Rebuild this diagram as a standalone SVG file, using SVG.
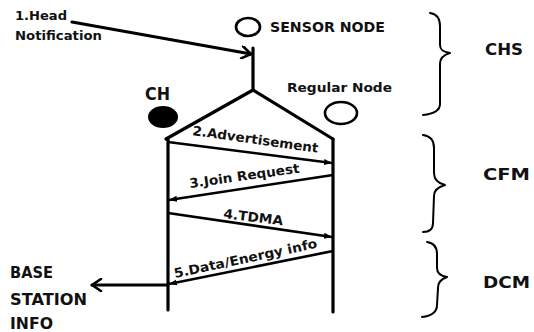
<svg xmlns="http://www.w3.org/2000/svg" width="534" height="332" viewBox="0 0 534 332">
<style>
text{font-family:"DejaVu Sans","Liberation Sans",Arial,sans-serif;font-weight:bold;fill:#111}
.ln{stroke:#000;stroke-width:3.2;fill:none;stroke-linecap:round;stroke-linejoin:round}
.msg{stroke:#000;stroke-width:2.6;fill:none}
.br{stroke:#000;stroke-width:2;fill:none;stroke-linecap:round;stroke-linejoin:round}
.lbl{font-size:13px}
.big{font-size:15px}
</style>
<defs>
<marker id="chev" markerWidth="14" markerHeight="14" refX="11" refY="7" orient="auto" markerUnits="userSpaceOnUse">
<path d="M2,1 L11,7 L2,13" fill="none" stroke="#000" stroke-width="2.6" stroke-linecap="round" stroke-linejoin="round"/>
</marker>
<marker id="tip" markerWidth="10" markerHeight="8" refX="8" refY="4" orient="auto" markerUnits="userSpaceOnUse">
<path d="M0,1 L8,4 L0,7 Z" fill="#000"/>
</marker>
</defs>
<rect width="534" height="332" fill="#fff"/>
<g id="connectors">
<line class="ln" x1="72" y1="22" x2="251" y2="54" marker-end="url(#chev)"/>
<line class="ln" x1="253" y1="48" x2="253" y2="90"/>
<polyline class="ln" points="166,139 253,90 333,139"/>
<line class="ln" x1="168" y1="139" x2="168" y2="310"/>
<line class="ln" x1="333" y1="139" x2="333" y2="312"/>
<line class="msg" x1="168" y1="142" x2="332" y2="163" marker-end="url(#tip)"/>
<line class="msg" x1="333" y1="175" x2="169" y2="200" marker-end="url(#tip)"/>
<line class="msg" x1="168" y1="213" x2="332" y2="237" marker-end="url(#tip)"/>
<line class="msg" x1="333" y1="251" x2="169" y2="284" marker-end="url(#tip)"/>
<line class="ln" x1="168" y1="285" x2="92" y2="285" marker-end="url(#chev)"/>
</g>
<g id="head-notification">
<text class="lbl" x="15" y="20" textLength="52" lengthAdjust="spacingAndGlyphs">1.Head</text>
<text class="lbl" x="15" y="40" textLength="87" lengthAdjust="spacingAndGlyphs">Notification</text>
</g>
<g id="sensor-node">
<ellipse cx="248" cy="27" rx="12" ry="9" fill="#fff" stroke="#000" stroke-width="2.6"/>
<text style="font-size:14px" x="270" y="32" textLength="115" lengthAdjust="spacingAndGlyphs">SENSOR NODE</text>
</g>
<g id="ch">
<text style="font-size:18px" x="145" y="100" textLength="25" lengthAdjust="spacingAndGlyphs">CH</text>
<ellipse cx="163" cy="117" rx="15" ry="11" fill="#000"/>
</g>
<g id="regular-node">
<text style="font-size:13px" x="287" y="92" textLength="105" lengthAdjust="spacingAndGlyphs">Regular Node</text>
<ellipse cx="341" cy="113" rx="16" ry="11" fill="#fff" stroke="#000" stroke-width="2.6"/>
</g>
<g id="messages">
<text class="lbl" transform="translate(192,135) rotate(8)" textLength="127" lengthAdjust="spacingAndGlyphs">2.Advertisement</text>
<text class="lbl" transform="translate(190,188) rotate(-8)" textLength="111" lengthAdjust="spacingAndGlyphs">3.Join Request</text>
<text class="lbl" transform="translate(223,218) rotate(7)" textLength="60" lengthAdjust="spacingAndGlyphs">4.TDMA</text>
<text class="lbl" transform="translate(175,278) rotate(-12)" textLength="146" lengthAdjust="spacingAndGlyphs">5.Data/Energy info</text>
</g>
<g id="base-station">
<text class="big" x="10" y="278" textLength="43" lengthAdjust="spacingAndGlyphs">BASE</text>
<text class="big" x="10" y="305" textLength="77" lengthAdjust="spacingAndGlyphs">STATION</text>
<text class="big" x="10" y="329" textLength="43" lengthAdjust="spacingAndGlyphs">INFO</text>
</g>
<g id="chs">
<path class="br" d="M430,13 C437,14 440,18 440,26 L440,45 C440,50 443,52 450,53 C443,55 440,58 440,64 L440,104 C440,111 433,114 423,115"/>
<text style="font-size:16px" x="485" y="55" textLength="38" lengthAdjust="spacingAndGlyphs">CHS</text>
</g>
<g id="cfm">
<path class="br" d="M423,135 C431,136 434,141 434,148 L434,173 C434,179 437,183 445,185 C438,187 434,190 434,196 L433,223 C433,229 429,232 423,232"/>
<text style="font-size:16px" x="483" y="180" textLength="47" lengthAdjust="spacingAndGlyphs">CFM</text>
</g>
<g id="dcm">
<path class="br" d="M427,242 C434,243 437,247 437,254 L437,268 C437,273 441,276 447,277 C441,279 438,282 438,288 L437,305 C437,312 431,316 422,317"/>
<text style="font-size:16px" x="483" y="288" textLength="47" lengthAdjust="spacingAndGlyphs">DCM</text>
</g>
</svg>
